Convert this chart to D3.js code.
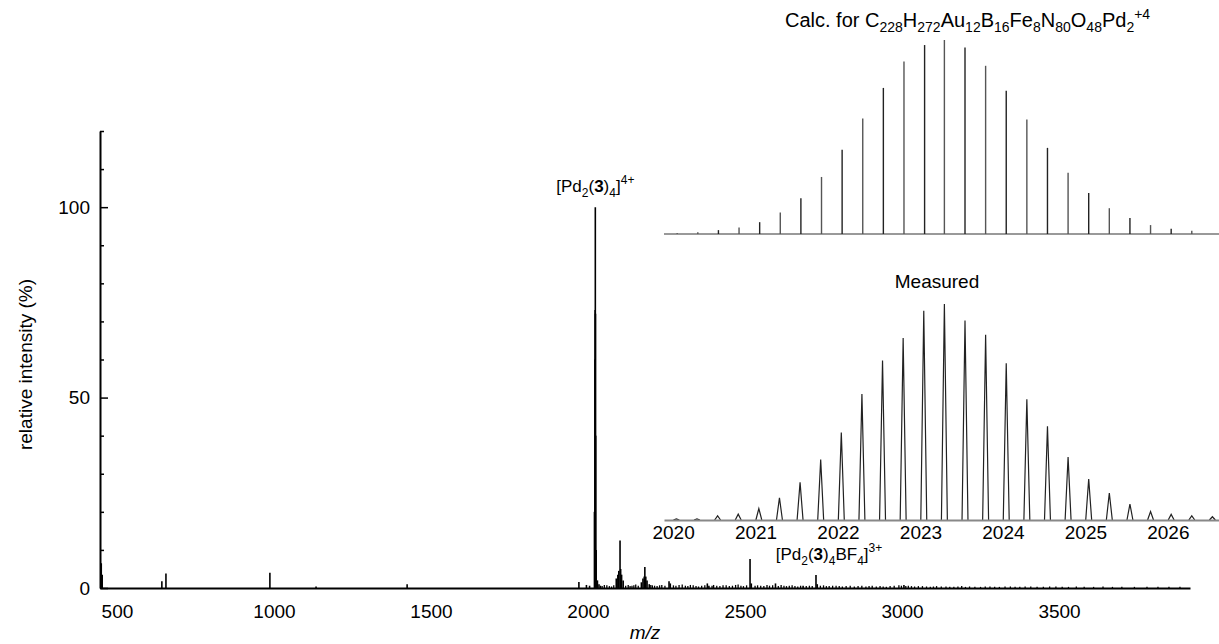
<!DOCTYPE html>
<html>
<head>
<meta charset="utf-8">
<script src="https://cdn.jsdelivr.net/npm/d3@7"></script>
<style>
    body { margin: 0; background: #fff; }
    svg { display: block; font-family: "Liberation Sans", Arial, sans-serif; }
</style>
</head>
<body>
<div id="chart"></div>
<script>
// Main spectrum: [m/z, relative intensity %]
const mainPeaks = [
    [450, 6.5], [453, 3.5], [643, 1.8], [656, 3.8], [987, 4.0], [1134, 0.4], [1424, 1.0],
    [1971, 1.6], [1995, 0.8], [2005, 0.6],
    [2020.5, 20], [2022.3, 60], [2022.8, 73], [2023.3, 100], [2023.8, 72], [2024.5, 40], [2026, 10], [2030, 2], [2035, 1],
    [2090, 2.5], [2095, 3.5], [2098, 4.5], [2102, 12.5], [2104, 5], [2107, 3.5], [2112, 2],
    [2170, 1.5], [2175, 2.5], [2179, 3], [2181, 5.5], [2184, 3], [2188, 2], [2195, 1],
    [2258, 1.8], [2262, 1.2], [2380, 1.2], [2385, 0.6], [2516, 7.6], [2520, 1.2],
    [2597, 1.2], [2685, 0.6], [2726, 3.4], [2730, 1.0], [3006, 0.8]
];
const baselineNoise = [
    [2040, 0.6], [2045, 0.5], [2052, 0.8], [2060, 0.7], [2068, 0.5], [2075, 0.4], [2082, 0.7], [2120, 0.6],
    [2128, 0.8], [2134, 0.5], [2140, 0.6], [2146, 0.7], [2152, 0.9], [2160, 0.6], [2200, 0.8], [2205, 0.7],
    [2212, 0.6], [2220, 0.5], [2228, 0.7], [2235, 0.8], [2245, 0.6], [2272, 0.7], [2280, 0.6], [2290, 0.8],
    [2300, 0.9], [2310, 0.6], [2318, 0.5], [2326, 0.8], [2335, 0.7], [2344, 0.5], [2352, 0.4], [2362, 0.6],
    [2372, 0.7], [2395, 0.6], [2400, 0.8], [2410, 0.6], [2420, 0.5], [2430, 0.7], [2440, 0.7], [2450, 0.5],
    [2460, 0.6], [2470, 0.8], [2478, 0.9], [2487, 0.6], [2495, 0.5], [2505, 0.7], [2532, 0.6], [2540, 0.7],
    [2550, 0.6], [2560, 0.5], [2570, 0.8], [2578, 0.6], [2588, 0.7], [2606, 0.5], [2615, 0.8], [2624, 0.6],
    [2632, 0.5], [2641, 0.6], [2650, 0.7], [2659, 0.5], [2668, 0.4], [2677, 0.6], [2695, 0.5], [2705, 0.6],
    [2714, 0.5], [2740, 0.6], [2750, 0.7], [2759, 0.5], [2768, 0.5], [2779, 0.6], [2790, 0.6], [2800, 0.5],
    [2810, 0.4], [2822, 0.5], [2835, 0.6], [2848, 0.4], [2860, 0.5], [2872, 0.6], [2885, 0.4], [2895, 0.5],
    [2905, 0.6], [2918, 0.4], [2930, 0.5], [2940, 0.4], [2950, 0.3], [2962, 0.5], [2975, 0.6], [2990, 0.7],
    [2998, 0.6], [3012, 0.5], [3020, 0.6], [3030, 0.5], [3040, 0.4], [3052, 0.5], [3065, 0.5], [3078, 0.4],
    [3090, 0.3], [3100, 0.4], [3110, 0.5], [3125, 0.4], [3140, 0.4], [3152, 0.3], [3165, 0.3], [3178, 0.4],
    [3190, 0.5], [3202, 0.3], [3215, 0.4], [3232, 0.3], [3250, 0.3], [3265, 0.4], [3280, 0.4], [3295, 0.3],
    [3310, 0.3], [3328, 0.4], [3345, 0.4], [3360, 0.3], [3375, 0.3], [3392, 0.4], [3410, 0.4], [3430, 0.3],
    [3450, 0.3], [3470, 0.4], [3490, 0.4], [3510, 0.3], [3530, 0.3], [3555, 0.4], [3580, 0.3], [3610, 0.3],
    [3640, 0.4], [3670, 0.3], [3700, 0.3], [3740, 0.3], [3780, 0.3], [3815, 0.3], [3850, 0.3], [3885, 0.3]
];
const mainTicks = [500, 1000, 1500, 2000, 2500, 3000, 3500];
const yMajorTicks = [0, 50, 100];
const yMinorTicks = [10, 20, 30, 40, 60, 70, 80, 90, 110, 120];

// Isotope pattern insets
const calcMz = [2020.05, 2020.30, 2020.55, 2020.80, 2021.05, 2021.30, 2021.55, 2021.80, 2022.05, 2022.30,
    2022.55, 2022.80, 2023.05, 2023.29, 2023.54, 2023.79, 2024.04, 2024.29, 2024.54, 2024.79,
    2025.04, 2025.29, 2025.54, 2025.79, 2026.04, 2026.29];
const calcInt = [0.3, 0.9, 2.0, 3.4, 6.1, 11.1, 18.4, 29.4, 43.4, 59.5,
    75.3, 88.9, 97.4, 100, 96.1, 86.7, 73.8, 59.0, 44.4, 31.6,
    21.1, 13.3, 8.2, 4.6, 2.7, 1.7];
const measMz = [2020.04, 2020.29, 2020.54, 2020.79, 2021.04, 2021.29, 2021.54, 2021.79, 2022.04, 2022.29,
    2022.54, 2022.79, 2023.04, 2023.29, 2023.54, 2023.79, 2024.04, 2024.29, 2024.54, 2024.79,
    2025.04, 2025.29, 2025.54, 2025.79, 2026.04, 2026.29, 2026.54];
const measInt = [0.5, 0.5, 1.9, 2.7, 5.3, 10.3, 17.5, 28.0, 40.5, 58.3,
    73.8, 84.2, 96.9, 100, 92.3, 85.8, 72.6, 55.9, 43.4, 29.2,
    19.0, 12.5, 7.4, 3.9, 2.6, 1.9, 1.5];
const insetTicks = [2020, 2021, 2022, 2023, 2024, 2025, 2026];

const width = 1219
const height = 644
const fontSize = 19

const svg = d3.select('#chart')
    .append('svg')
    .attr('width', width)
    .attr('height', height)
    .attr('viewBox', [0, 0, width, height]);

// Writes a formula-like label: parts are [text, kind] with kind n / b / sub / sup
function richText(sel, parts, size, smallSize) {
    const shift = { n: 0, b: 0, sub: 5, sup: -8 };
    let cur = 0;
    parts.forEach(([t, k]) => {
        const target = shift[k];
        const span = sel.append('tspan')
            .attr('dy', target - cur)
            .attr('font-size', (k === 'sub' || k === 'sup') ? smallSize : size)
            .text(t);
        if (k === 'b') span.attr('font-weight', 'bold');
        cur = target;
    });
}

// Main chart
const x = d3.scaleLinear().domain([446, 3917]).range([100, 1190]);
const y = d3.scaleLinear().domain([0, 120]).range([588, 131]);

const gMain = svg.append('g').attr('id', 'main');

gMain.append('g')
    .selectAll('line')
    .data(baselineNoise)
    .join('line')
    .attr('x1', d => x(d[0])).attr('x2', d => x(d[0]))
    .attr('y1', y(0)).attr('y2', d => y(d[1]))
    .attr('stroke', '#000')
    .attr('stroke-width', 1.3);

gMain.append('g')
    .selectAll('line')
    .data(mainPeaks)
    .join('line')
    .attr('x1', d => x(d[0])).attr('x2', d => x(d[0]))
    .attr('y1', y(0)).attr('y2', d => y(d[1]))
    .attr('stroke', '#000')
    .attr('stroke-width', 1.6);

// x axis
const xAxis = gMain.append('g')
    .attr('transform', `translate(0, ${y(0)})`)
    .call(d3.axisBottom(x).tickValues(mainTicks).tickFormat(d3.format('d')).tickSize(0).tickPadding(17).tickSizeOuter(0));
xAxis.select('.domain').attr('stroke-width', 2.2);
xAxis.selectAll('text').attr('font-size', fontSize).attr('font-family', 'Liberation Sans, Arial, sans-serif').attr('fill', '#000');

// y axis (ticks point inward)
const yAxis = gMain.append('g')
    .attr('transform', `translate(${x.range()[0]}, 0)`)
    .call(d3.axisLeft(y).tickValues(yMajorTicks).tickSizeInner(-8).tickSizeOuter(0).tickPadding(10));
yAxis.select('.domain').attr('stroke-width', 2);
yAxis.selectAll('.tick line').attr('stroke-width', 1.5);
yAxis.selectAll('text').attr('font-size', fontSize).attr('font-family', 'Liberation Sans, Arial, sans-serif').attr('fill', '#000');

const yMinor = gMain.append('g')
    .attr('transform', `translate(${x.range()[0]}, 0)`)
    .call(d3.axisLeft(y).tickValues(yMinorTicks).tickSizeInner(-4).tickSizeOuter(0).tickFormat(''));
yMinor.select('.domain').remove();
yMinor.selectAll('.tick line').attr('stroke-width', 1.5);

gMain.append('text')
    .attr('transform', `translate(32, ${(y(0) + y(120)) / 2 + 5}) rotate(-90)`)
    .attr('text-anchor', 'middle')
    .attr('font-size', fontSize)
    .text('relative intensity (%)');

gMain.append('text')
    .attr('x', 645)
    .attr('y', 639)
    .attr('text-anchor', 'middle')
    .attr('font-size', fontSize)
    .attr('font-style', 'italic')
    .text('m/z');

// Peak annotations
richText(
    gMain.append('text').attr('x', x(2023.3)).attr('y', 192).attr('text-anchor', 'middle'),
    [['[Pd', 'n'], ['2', 'sub'], ['(', 'n'], ['3', 'b'], [')', 'n'], ['4', 'sub'], [']', 'n'], ['4+', 'sup']],
    17, 12);
richText(
    gMain.append('text').attr('x', x(2726) + 13).attr('y', 560).attr('text-anchor', 'middle'),
    [['[Pd', 'n'], ['2', 'sub'], ['(', 'n'], ['3', 'b'], [')', 'n'], ['4', 'sub'], ['BF', 'n'], ['4', 'sub'], [']', 'n'], ['3+', 'sup']],
    17, 12);

// Insets
const xi = d3.scaleLinear().domain([2019.89, 2026.62]).range([664, 1219]);
const yCalc = d3.scaleLinear().domain([0, 100]).range([234, 40]);
const yMeas = d3.scaleLinear().domain([0, 100]).range([520, 304]);

const gCalc = svg.append('g').attr('id', 'inset-calc');
gCalc.append('line')
    .attr('x1', xi.range()[0]).attr('x2', xi.range()[1])
    .attr('y1', yCalc(0)).attr('y2', yCalc(0))
    .attr('stroke', '#777').attr('stroke-width', 1.5);
gCalc.append('g')
    .selectAll('line')
    .data(calcMz)
    .join('line')
    .attr('x1', d => xi(d)).attr('x2', d => xi(d))
    .attr('y1', yCalc(0)).attr('y2', (d, i) => yCalc(calcInt[i]))
    .attr('stroke', (d, i) => i % 2 ? '#555' : '#222')
    .attr('stroke-width', 1.4);

richText(
    gCalc.append('text').attr('x', 785).attr('y', 27),
    [['Calc. for C', 'n'], ['228', 'sub'], ['H', 'n'], ['272', 'sub'], ['Au', 'n'], ['12', 'sub'], ['B', 'n'], ['16', 'sub'],
     ['Fe', 'n'], ['8', 'sub'], ['N', 'n'], ['80', 'sub'], ['O', 'n'], ['48', 'sub'], ['Pd', 'n'], ['2', 'sub'], ['+4', 'sup']],
    20, 14);

const gMeas = svg.append('g').attr('id', 'inset-measured');
const halfW = 0.036;
const peakLine = d3.line().x(d => xi(d[0])).y(d => yMeas(d[1]));
gMeas.append('g')
    .selectAll('path')
    .data(measMz)
    .join('path')
    .attr('d', (d, i) => peakLine([[d - halfW, 0], [d, measInt[i]], [d + halfW, 0]]))
    .attr('fill', 'none')
    .attr('stroke', '#222')
    .attr('stroke-width', 1.2);

const measAxis = gMeas.append('g')
    .attr('transform', `translate(0, ${yMeas(0)})`)
    .call(d3.axisBottom(xi).tickValues(insetTicks).tickFormat(d3.format('d')).tickSize(0).tickPadding(6).tickSizeOuter(0));
measAxis.select('.domain').attr('stroke', '#888').attr('stroke-width', 2);
measAxis.selectAll('text').attr('font-size', fontSize).attr('font-family', 'Liberation Sans, Arial, sans-serif').attr('fill', '#000');

gMeas.append('text')
    .attr('x', 937).attr('y', 288)
    .attr('text-anchor', 'middle')
    .attr('font-size', fontSize)
    .text('Measured');
</script>
</body>
</html>
